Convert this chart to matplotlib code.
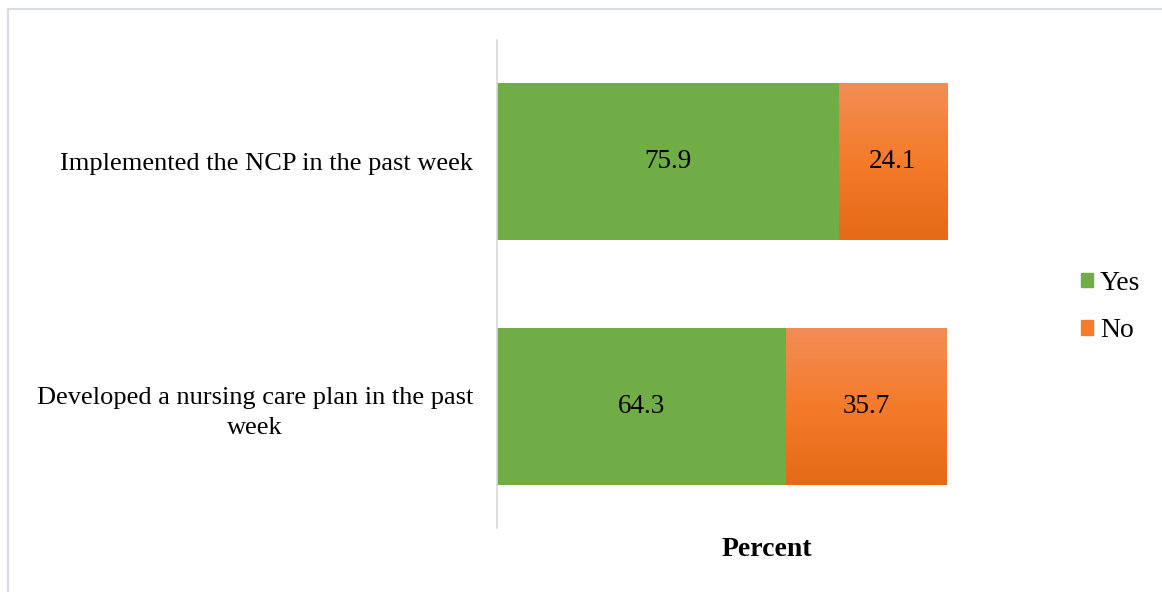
import numpy as np
import matplotlib.pyplot as plt
from matplotlib.colors import LinearSegmentedColormap
from matplotlib.lines import Line2D

plt.rcParams['font.family'] = ['Liberation Serif', 'DejaVu Serif']

# data
CATEGORIES = ['Developed a nursing care plan in the past\nweek',
              'Implemented the NCP in the past week']
YES = [64.3, 75.9]
NO = [35.7, 24.1]

GREEN = '#70AD47'
ORANGE_TOP = '#F28D55'
ORANGE_MID = '#F47B2A'
ORANGE_BOT = '#E46A17'

W, H = 1162, 592
fig = plt.figure(figsize=(W / 100, H / 100), dpi=100)
ax = fig.add_axes([497 / W, 1 - 528 / H, 450 / W, 488 / H])

y = np.arange(len(CATEGORIES))
bar_h = 0.64

ax.barh(y, YES, height=bar_h, color=GREEN, edgecolor='none')
no_bars = ax.barh(y, NO, left=YES, height=bar_h, color='none', edgecolor='none')

# vertical gradient on the orange bars
cmap = LinearSegmentedColormap.from_list('org', [ORANGE_BOT, ORANGE_MID, ORANGE_TOP])
grad = np.linspace(0, 1, 256).reshape(-1, 1)
for bar in no_bars:
    x0, y0 = bar.get_x(), bar.get_y()
    x1, y1 = x0 + bar.get_width(), y0 + bar.get_height()
    im = ax.imshow(grad, extent=[x0, x1, y0, y1], origin='lower',
                   cmap=cmap, aspect='auto', zorder=bar.get_zorder())
    im.set_clip_path(bar)

# value labels
for i in range(len(CATEGORIES)):
    ax.text(YES[i] / 2, y[i], f'{YES[i]:.1f}', ha='center', va='center', fontsize=19.5)
    ax.text(YES[i] + NO[i] / 2, y[i], f'{NO[i]:.1f}', ha='center', va='center', fontsize=19.5)

ax.set_xlim(0, 100)
ax.set_ylim(-0.495, 1.495)
ax.set_yticks(y)
ax.set_yticklabels(CATEGORIES, fontsize=19, multialignment='center', linespacing=1.45)
ax.tick_params(axis='y', length=0, pad=17)
ax.set_xticks([])
for s in ['top', 'right', 'bottom']:
    ax.spines[s].set_visible(False)
ax.spines['left'].set_color('#D9D9D9')
ax.spines['left'].set_linewidth(1.2)

# axis title
fig.text(767 / W, 1 - 549 / H, 'Percent', ha='center', va='center',
         fontsize=20, fontweight='bold')

# legend
handles = [plt.Rectangle((0, 0), 1, 1, color=GREEN),
           plt.Rectangle((0, 0), 1, 1, color=ORANGE_MID)]
fig.legend(handles, ['Yes', 'No'], loc='center left',
           bbox_to_anchor=(1064 / W, 1 - 307 / H), frameon=False,
           fontsize=20, handlelength=0.45, handleheight=0.45,
           handletextpad=0.25, labelspacing=0.8, borderaxespad=0.2)

# chart area border (left and top edges visible)
fig.add_artist(Line2D([8 / W, 8 / W], [0, 1 - 9 / H], transform=fig.transFigure,
                      color='#D9DDE3', lw=1.5))
fig.add_artist(Line2D([8 / W, 1], [1 - 9 / H, 1 - 9 / H], transform=fig.transFigure,
                      color='#D9DDE3', lw=1.5))

fig.savefig('out.png', dpi=100)
